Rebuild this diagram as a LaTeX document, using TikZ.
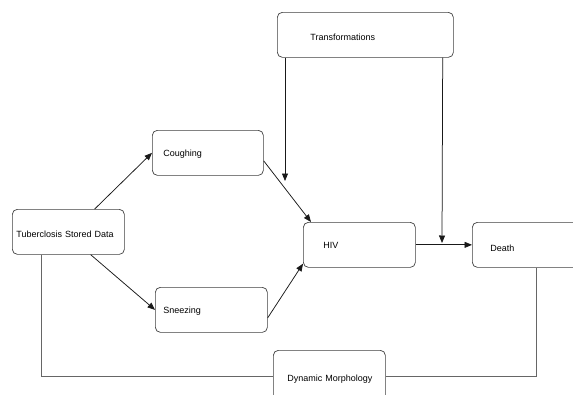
\documentclass[tikz,border=0pt]{standalone}
\usepackage{fontspec}
\setmainfont{Liberation Sans}
\usetikzlibrary{arrows.meta}
\begin{document}
\begin{tikzpicture}[x=1pt,y=-1pt,
  box/.style={draw=black!75, line width=0.7pt, rounded corners=5pt, anchor=north west,
    minimum height=45pt, align=left, font=\fontsize{9}{10}\selectfont, inner ysep=0pt, text depth=2pt},
  arr/.style={draw=black!90, line width=0.75pt, -{Triangle[length=7.5pt,width=6pt]}},
  plain/.style={draw=black!60, line width=0.8pt}]
\useasboundingbox (0,0) rectangle (573,394);
\clip (0,0) rectangle (573,394);
\fill[white] (0,0) rectangle (573,394);
\node[box, inner xsep=4pt, text width=104pt, text height=12.5pt] (tb) at (12,209) {\mbox{Tuberclosis Stored Data}};
\node[box, inner xsep=11pt, text width=89pt, text height=8.5pt] (cough) at (152,130) {Coughing};
\node[box, inner xsep=8pt, text width=96pt, text height=8.5pt] (sneeze) at (155,287) {Sneezing};
\node[box, inner xsep=20pt, text width=72pt, text height=8.5pt] (hiv) at (303,222) {HIV};
\node[box, inner xsep=18pt, text width=92pt, text height=14.5pt] (death) at (472,222) {Death};
\node[box, inner xsep=33pt, text width=110pt, text height=12.5pt] (trans) at (277,12) {Transformations};
\node[box, inner xsep=14pt, text width=84pt, minimum height=52pt, text height=12.5pt] (dm) at (273,350) {\mbox{Dynamic Morphology}};
\coordinate (c1) at (285,181);
\coordinate (c2) at (442,243);
\draw[arr] ([xshift=-30pt]tb.north east) -- (cough.west);
\draw[arr] ([xshift=-34pt]tb.south east) -- (sneeze.west);
\draw[arr] ([yshift=-8pt]cough.east) -- ([xshift=8pt]hiv.north west);
\draw[arr] ([yshift=-8pt]sneeze.east) -- ([yshift=4pt]hiv.south west);
\draw[arr] ([xshift=8pt]trans.south west) -- (c1);
\draw[arr] ([xshift=-11pt]trans.south east) -- (c2);
\draw[arr] (hiv.east) -- (death.west);
\draw[plain] ([xshift=29pt]tb.south west) |- (dm.west);
\draw[plain] (death.south) |- (dm.east);
\end{tikzpicture}
\end{document}
